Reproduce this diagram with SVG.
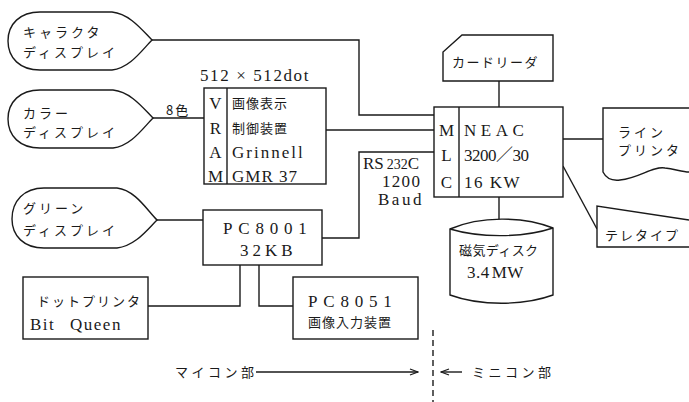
<svg xmlns="http://www.w3.org/2000/svg" width="689" height="402" viewBox="0 0 689 402">
<style>
.s{fill:none;stroke:#1a1a1a;stroke-width:1.4}
.b{fill:#fff;stroke:#1a1a1a;stroke-width:1.4}
.j{font-family:"Noto Sans CJK JP","Noto Sans CJK SC",sans-serif;font-size:13px;fill:#1a1a1a}
.r{font-family:"Liberation Serif","Noto Sans CJK JP",serif;font-size:17px;fill:#1a1a1a}
</style>
<defs>
<marker id="ah" markerWidth="10" markerHeight="8" refX="9" refY="4" orient="auto" markerUnits="userSpaceOnUse">
<path d="M1,1 L9,4 L1,7" fill="none" stroke="#1a1a1a" stroke-width="1.3"/>
</marker>
</defs>
<rect width="689" height="402" fill="#fff"/>
<g id="connectors" class="s">
<path d="M152,40 H359 V115 H434"/>
<path d="M153,118 H204"/>
<path d="M326,130 H434"/>
<path d="M157,220 H203"/>
<path d="M322,238 H359 V152 H434"/>
<path d="M499,81 V107"/>
<path d="M563,139 H603"/>
<path d="M563,166 L597,229"/>
<path d="M499,197 V223"/>
<path d="M148,306 H240 V265"/>
<path d="M259,265 V306 H293"/>
<path d="M256,372 H418" marker-end="url(#ah)"/>
<path d="M462,372 H441" marker-end="url(#ah)"/>
<path d="M433,330 V402" stroke-dasharray="6,4"/>
</g>
<g id="char-display">
<path class="b" d="M40,12 H112 C130,14 142,30 152,40 C142,50 130,68 112,70 H40 C20,70 8,58 8,41 C8,24 20,12 40,12 Z"/>
<text class="j" x="23" y="37" letter-spacing="3">キャラクタ</text>
<text class="j" x="23" y="57" letter-spacing="3">ディスプレイ</text>
</g>
<g id="color-display">
<path class="b" d="M40,90 H113 C131,92 143,108 153,118 C143,128 131,146 113,148 H40 C20,148 8,136 8,119 C8,102 20,90 40,90 Z"/>
<text class="j" x="23" y="118" letter-spacing="3">カラー</text>
<text class="j" x="23" y="137" letter-spacing="3">ディスプレイ</text>
<text class="j" x="166" y="115" font-size="15" letter-spacing="2">8色</text>
</g>
<g id="vram">
<text class="r" x="200" y="81" letter-spacing="1.6">512 × 512dot</text>
<rect class="b" x="204" y="88" width="122" height="96"/>
<path class="s" d="M227,88 V184"/>
<text class="r" x="215.5" y="109" text-anchor="middle">V</text>
<text class="r" x="215.5" y="134" text-anchor="middle">R</text>
<text class="r" x="215.5" y="158" text-anchor="middle">A</text>
<text class="r" x="215.5" y="182" text-anchor="middle">M</text>
<text class="j" x="232" y="108" font-size="15" letter-spacing="1">画像表示</text>
<text class="j" x="232" y="133" font-size="15" letter-spacing="1">制御装置</text>
<text class="r" x="232" y="158" letter-spacing="2">Grinnell</text>
<text class="r" x="232" y="182" letter-spacing="1">GMR 37</text>
</g>
<g id="green-display">
<path class="b" d="M44,188 H117 C135,190 147,210 157,220 C147,230 135,246 117,248 H44 C24,248 12,236 12,219 C12,201 24,188 44,188 Z"/>
<text class="j" x="23" y="213" letter-spacing="3">グリーン</text>
<text class="j" x="23" y="235" letter-spacing="3">ディスプレイ</text>
</g>
<g id="pc8001">
<rect class="b" x="203" y="210" width="119" height="55"/>
<text class="r" x="223" y="234" letter-spacing="5.8">PC8001</text>
<text class="r" x="240" y="256" letter-spacing="4">32KB</text>
</g>
<g id="rs232c">
<text class="r" x="363" y="169">RS<tspan font-size="14" dx="3">232</tspan>C</text>
<text class="r" x="382" y="187" letter-spacing="1.3">1200</text>
<text class="r" x="378" y="205" letter-spacing="2.5">Baud</text>
</g>
<g id="dot-printer">
<rect class="b" x="23" y="277" width="125" height="62"/>
<text class="j" x="37" y="306" font-size="11" letter-spacing="2">ドットプリンタ</text>
<text class="r" x="30" y="330" letter-spacing="1.5" word-spacing="9">Bit Queen</text>
</g>
<g id="pc8051">
<rect class="b" x="293" y="277" width="125" height="62"/>
<text class="r" x="308" y="307" letter-spacing="5.8">PC8051</text>
<text class="j" x="308" y="327" font-size="14.5" letter-spacing="1">画像入力装置</text>
</g>
<g id="card-reader">
<path class="b" d="M462,35 H553 V81 H443 V52 Z"/>
<text class="j" x="452" y="67" letter-spacing="1.5">カードリーダ</text>
</g>
<g id="neac">
<rect class="b" x="434" y="107" width="129" height="90"/>
<path class="s" d="M459,107 V197"/>
<text class="r" x="446.5" y="136" text-anchor="middle">M</text>
<text class="r" x="446.5" y="161" text-anchor="middle">L</text>
<text class="r" x="446.5" y="188" text-anchor="middle">C</text>
<text class="r" x="464" y="136" letter-spacing="4.5">NEAC</text>
<text class="r" x="464" y="161" font-size="16" letter-spacing="-0.5">3200／30</text>
<text class="r" x="464" y="188" letter-spacing="1.5">16 KW</text>
</g>
<g id="line-printer">
<path class="b" d="M689,108 H603 V172 C606,178 612,181 620,180 C640,178 652,166 665,168 C675,169 682,172 689,172"/>
<text class="j" x="618" y="137" letter-spacing="3">ライン</text>
<text class="j" x="618" y="155" letter-spacing="3">プリンタ</text>
</g>
<g id="teletype">
<path class="b" d="M689,220 L597,206 V247 H689"/>
<text class="j" x="605" y="240" letter-spacing="2">テレタイプ</text>
</g>
<g id="magnetic-disk">
<path class="b" d="M450,229 C480,216 523,216 553,228 V295 C523,306 480,306 450,295 Z"/>
<path class="s" d="M450,229 C480,238 523,238 553,228"/>
<text class="j" x="459" y="255" font-size="14.5" letter-spacing="0.4">磁気ディスク</text>
<text class="r" x="467" y="278" letter-spacing="0.5">3.4<tspan dx="2">MW</tspan></text>
</g>
<g id="labels">
<text class="j" x="175" y="377" letter-spacing="3.5">マイコン部</text>
<text class="j" x="472" y="377" letter-spacing="3.5">ミニコン部</text>
</g>
</svg>
